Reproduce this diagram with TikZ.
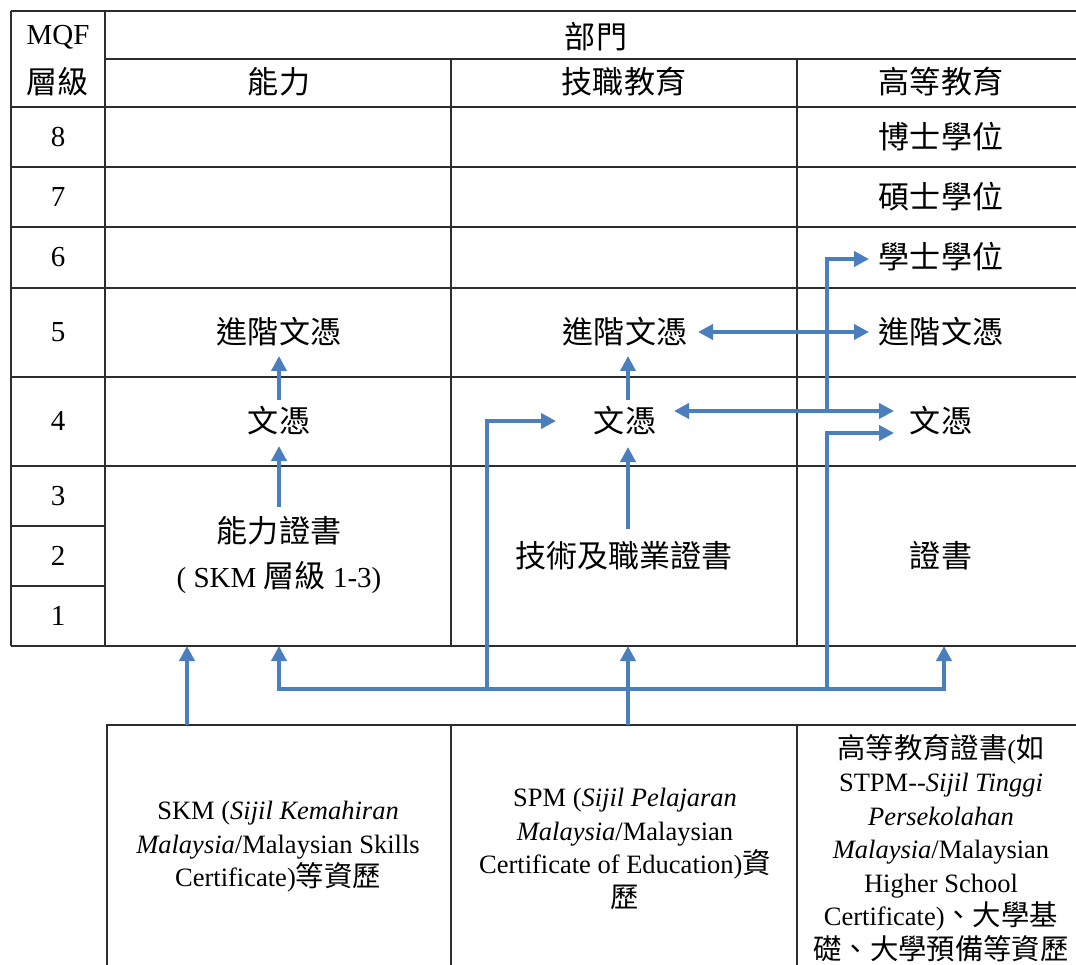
\documentclass[tikz,border=0pt]{standalone}
\usepackage{fontspec}
\setmainfont{Liberation Serif}
\newfontfamily\cjk{Noto Sans CJK TC}[Scale=1.07]
\usetikzlibrary{arrows.meta}
\definecolor{arrowblue}{RGB}{74,126,189}
\definecolor{gridgray}{RGB}{45,45,45}
\newcommand\zh[1]{{\cjk #1}}
\begin{document}
\begin{tikzpicture}[x=1pt,y=-1pt,
  grid/.style={draw=gridgray,line width=1.3pt},
  flow/.style={draw=arrowblue,line width=3.8pt,-{Triangle[length=15pt,width=15pt]}},
  flowboth/.style={draw=arrowblue,line width=3.8pt,{Triangle[length=15pt,width=15pt]}-{Triangle[length=15pt,width=15pt]}},
  cell/.style={font=\fontsize{29}{34}\selectfont,inner sep=0pt,anchor=center,align=center},
  src/.style={font=\fontsize{26.5}{33.5}\selectfont,inner sep=0pt,anchor=center,align=center}]
\fill[white] (0,0) rectangle (1076,965);
\useasboundingbox (0,0) rectangle (1076,965);
% table grid
\draw[grid] (11,11) -- (1076,11);
\draw[grid] (105,59) -- (1076,59);
\foreach \yy in {107,167,227,288,377,466,646} \draw[grid] (11,\yy) -- (1076,\yy);
\foreach \yy in {526,586} \draw[grid] (11,\yy) -- (105,\yy);
\draw[grid] (11,11) -- (11,646);
\draw[grid] (105,11) -- (105,646);
\draw[grid] (451,59) -- (451,646);
\draw[grid] (797,59) -- (797,646);
% bottom boxes
\draw[grid] (107,965) -- (107,725) -- (1076,725);
\draw[grid] (451,725) -- (451,965);
\draw[grid] (797,725) -- (797,965);
% header texts
\node[cell] (mqf) at (58,37) {MQF};
\node[cell] (lvl) at (58,82) {\zh{層級}};
\node[cell] (dept) at (596,37) {\zh{部門}};
\node[cell] (hcomp) at (279,82) {\zh{能力}};
\node[cell] (htvet) at (624,82) {\zh{技職教育}};
\node[cell] (hhe) at (941,82) {\zh{高等教育}};
% level numbers
\node[cell] (r8) at (58,137) {8};
\node[cell] (r7) at (58,197) {7};
\node[cell] (r6) at (58,257) {6};
\node[cell] (r5) at (58,332) {5};
\node[cell] (r4) at (58,421) {4};
\node[cell] (r3) at (58,496) {3};
\node[cell] (r2) at (58,556) {2};
\node[cell] (r1) at (58,616) {1};
% cells
\node[cell] (phd) at (941,137) {\zh{博士學位}};
\node[cell] (ms) at (941,197) {\zh{碩士學位}};
\node[cell] (ba) at (941,257) {\zh{學士學位}};
\node[cell] (adl) at (279,332) {\zh{進階文憑}};
\node[cell] (adm) at (625,332) {\zh{進階文憑}};
\node[cell] (adr) at (941,332) {\zh{進階文憑}};
\node[cell] (dl) at (279,421) {\zh{文憑}};
\node[cell] (dm) at (625,421) {\zh{文憑}};
\node[cell] (dr) at (941,421) {\zh{文憑}};
\node[cell,font=\fontsize{29}{45}\selectfont] (cl) at (279,555) {\zh{能力證書}\\( SKM \zh{層級} 1-3)};
\node[cell] (cm) at (624,556) {\zh{技術及職業證書}};
\node[cell] (cr) at (941,556) {\zh{證書}};
% source boxes
\node[src] (skm) at (278,847) {SKM (\textit{Sijil Kemahiran}\\\textit{Malaysia}/Malaysian Skills\\Certificate)\zh{等資歷}};
\node[src] (spm) at (625,849) {SPM (\textit{Sijil Pelajaran}\\\textit{Malaysia}/Malaysian\\Certificate of Education)\zh{資}\\\zh{歷}};
\node[src] (stpm) at (941,848) {\zh{高等教育證書}(\zh{如}\\STPM-{}-\textit{Sijil Tinggi}\\\textit{Persekolahan}\\\textit{Malaysia}/Malaysian\\Higher School\\Certificate)\zh{、大學基}\\\zh{礎、大學預備等資歷}};
% connector coordinates
\coordinate (clTop) at (279,507);
\coordinate (dlBot) at (279,446);
\coordinate (dlTop) at (279,400);
\coordinate (adlBot) at (279,356);
\coordinate (cmTop) at (628,529);
\coordinate (dmBot) at (628,447);
\coordinate (dmTop) at (628,400);
\coordinate (admBot) at (628,356);
\coordinate (dmEast) at (674,411);
\coordinate (drWest) at (894,411);
\coordinate (admEast) at (698,332);
\coordinate (adrWest) at (869,332);
\coordinate (jHE) at (827,411);
\coordinate (baWest) at (869,259);
\coordinate (skmTop) at (187,725);
\coordinate (tabSkm) at (187,646);
\coordinate (spmTop) at (628,725);
\coordinate (tabTvet) at (628,646);
\coordinate (tabComp) at (279,646);
\coordinate (tabHE) at (944,646);
\coordinate (busL) at (279,689);
\coordinate (busR) at (944,689);
\coordinate (busA) at (487,689);
\coordinate (dmWest) at (556,421);
\coordinate (busB) at (827,689);
\coordinate (drWest2) at (894,433);
% connectors
\draw[flow] (clTop) -- (dlBot);
\draw[flow] (dlTop) -- (adlBot);
\draw[flow] (cmTop) -- (dmBot);
\draw[flow] (dmTop) -- (admBot);
\draw[flowboth] (dmEast) -- (drWest);
\draw[flowboth] (admEast) -- (adrWest);
\draw[flow] (jHE) |- (baWest);
\draw[flow] (skmTop) -- (tabSkm);
\draw[flow] (spmTop) -- (tabTvet);
\draw[flowboth] (tabComp) -- (busL) -- (busR) -- (tabHE);
\draw[flow] (busA) |- (dmWest);
\draw[flow] (busB) |- (drWest2);
\end{tikzpicture}
\end{document}
